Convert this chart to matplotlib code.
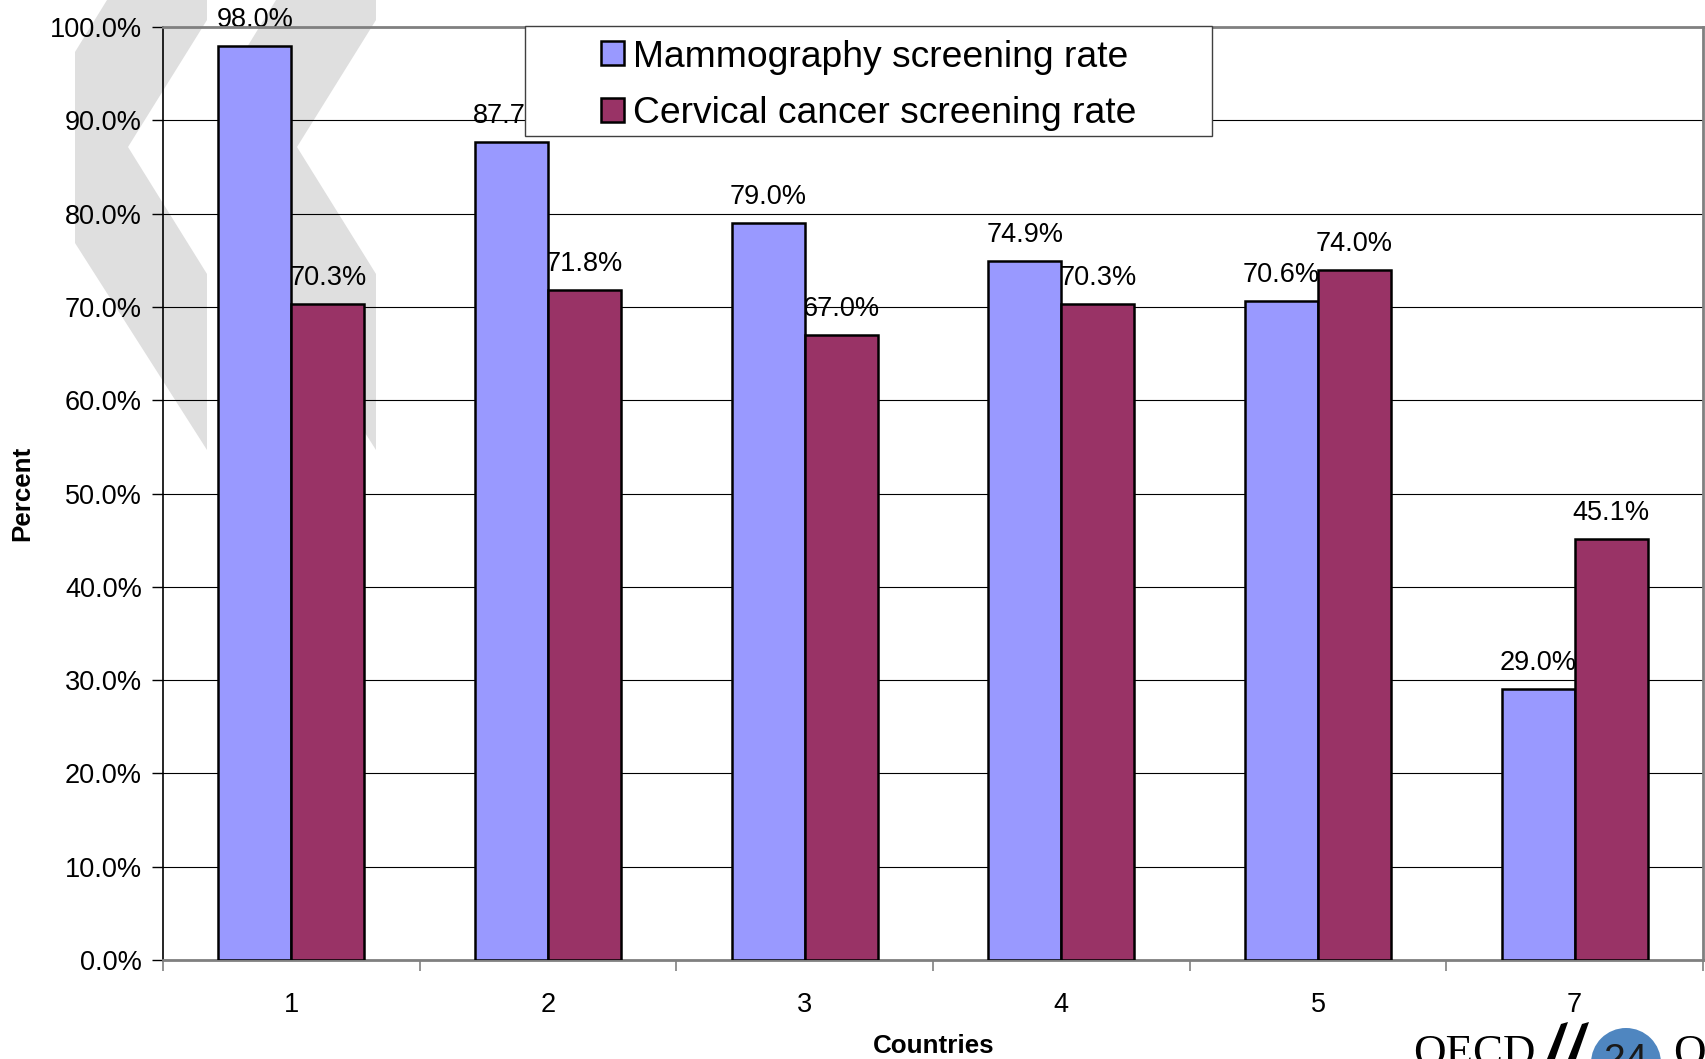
import numpy as np
import matplotlib
matplotlib.use('Agg')
import matplotlib.pyplot as plt
from matplotlib.patches import Patch, Polygon, Rectangle, Circle
from matplotlib.transforms import Affine2D

# dados do grafico
paises = ['1', '2', '3', '4', '5', '7']
mamografia = [98.0, 87.7, 79.0, 74.9, 70.6, 29.0]
colo_utero = [70.3, 71.8, 67.0, 70.3, 74.0, 45.1]
nomes_series = ['Mammography screening rate', 'Cervical cancer screening rate']
cores = ['#9999FF', '#993366']

plt.rcParams['font.family'] = ['Liberation Sans', 'DejaVu Sans']
fonte = 19.5

fig = plt.figure(figsize=(17.06, 10.59), dpi=100)
fig.patch.set_facecolor('white')
ax = fig.add_axes([163/1706, 99/1059, 1540/1706, 933/1059])
ax.patch.set_alpha(0)

# transformacao em pixels (origem no canto superior esquerdo)
px = Affine2D().scale(0.01, -0.01).translate(0, 10.59) + fig.dpi_scale_trans

##  Marca d'agua cinza (duas setas) atras do grafico.  ##
seta = np.array([(107, 0), (207, 0), (207, 20), (128, 147), (207, 274),
                 (207, 450), (75, 243), (75, 52)], dtype=float)
for dx in [0, 169]:
    fig.add_artist(Polygon(seta + [dx, 0], closed=True, transform=px,
                           facecolor='#DFDFDF', edgecolor='none', zorder=-5))

##  Barras.  ##
x = np.arange(len(paises)) + 0.5
larg = 0.285
b1 = ax.bar(x - larg, mamografia, width=larg, align='edge', color=cores[0],
            edgecolor='black', linewidth=1.8, zorder=3)
b2 = ax.bar(x, colo_utero, width=larg, align='edge', color=cores[1],
            edgecolor='black', linewidth=1.8, zorder=3)

for barras, valores in [(b1, mamografia), (b2, colo_utero)]:
    for b, v in zip(barras, valores):
        ax.annotate(f'{v:.1f}%', xy=(b.get_x() + b.get_width()/2, v),
                    xytext=(0, 13.7), textcoords='offset points',
                    ha='center', va='baseline', fontsize=fonte, zorder=2,
                    annotation_clip=False)

##  Eixos.  ##
ax.set_xlim(0, len(paises))
ax.set_ylim(0, 100)
ax.set_yticks(np.arange(0, 101, 10))
ax.set_yticklabels([f'{v:.1f}%' for v in np.arange(0, 101, 10)])
ax.set_xticks(np.arange(0, len(paises) + 1))
ax.set_xticklabels([])
ax.set_xticks(x, minor=True)
ax.set_xticklabels(paises, minor=True)
ax.tick_params(axis='y', length=8, width=1, color='black', pad=7.2, labelsize=fonte)
ax.tick_params(axis='x', which='major', length=8, width=1.2, color='#808080')
ax.tick_params(axis='x', which='minor', length=0, pad=23, labelsize=fonte)

ax.set_axisbelow(True)
ax.yaxis.grid(True, color='black', linewidth=0.8)

for lado in ['top', 'right', 'bottom']:
    ax.spines[lado].set_color('#808080')
    ax.spines[lado].set_linewidth(2)
ax.spines['left'].set_color('black')
ax.spines['left'].set_linewidth(1.2)

ax.set_ylabel('Percent', fontsize=18.7, fontweight='bold')
ax.yaxis.label.set_verticalalignment('center')
ax.yaxis.set_label_coords(-0.0915, 0.5)
ax.set_xlabel('Countries', fontsize=18.7, fontweight='bold')
ax.xaxis.label.set_verticalalignment('center')
ax.xaxis.set_label_coords(0.5006, -0.0925)

##  Legenda com moldura propria.  ##
ax.add_patch(Rectangle((0.2351, 0.8832), 0.4461, 0.1179, transform=ax.transAxes,
                       facecolor='white', edgecolor='#404040', linewidth=1,
                       zorder=6, clip_on=False))
handles = [Patch(facecolor=c, edgecolor='black', linewidth=1.8) for c in cores]
leg = ax.legend(handles, nomes_series, loc='center', bbox_to_anchor=(0.4581, 0.9375),
                frameon=False, fontsize=26.8, handlelength=0.62, handleheight=0.62,
                handletextpad=0.25, labelspacing=0.58, borderpad=0)
leg.set_zorder(7)

##  Logo no canto inferior direito.  ##
fig.text(1413/1706, 1 - 1065/1059, 'OECD', family='Liberation Serif', fontsize=32.4,
         ha='left', va='baseline')
fig.text(1673/1706, 1 - 1065/1059, 'O', family='Liberation Serif', fontsize=32.4,
         ha='left', va='baseline')
for dx in [0, 21]:
    traco = np.array([(1547, 1059), (1555, 1059), (1568, 1022), (1561, 1024)], dtype=float)
    fig.add_artist(Polygon(traco + [dx, 0], closed=True, transform=px,
                           facecolor='black', edgecolor='none'))
fig.add_artist(Circle((1626, 1063), 35, transform=px, facecolor='#4F86C0',
                      edgecolor='none'))
fig.text(1626/1706, 1 - 1071/1059, '24', fontsize=28, ha='center', va='baseline',
         color='#1a1a1a')

fig.savefig('out.png', dpi=100)
